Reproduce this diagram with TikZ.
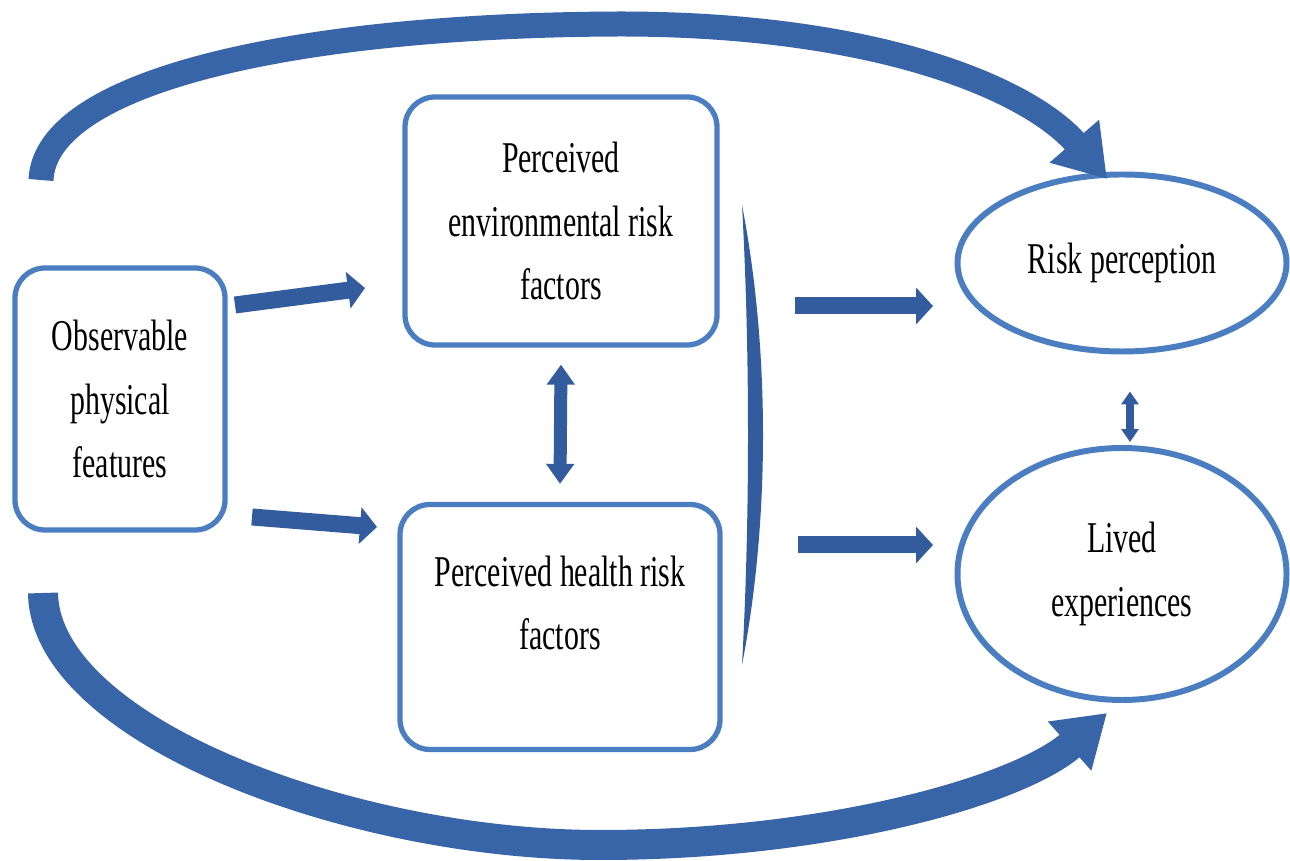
\documentclass[tikz,border=0pt]{standalone}
\usepackage{fontspec}
\setmainfont{Liberation Serif}[FakeStretch=0.68]
\usetikzlibrary{arrows.meta,shapes.geometric}
\definecolor{boxblue}{RGB}{74,126,193}
\definecolor{arrowblue}{RGB}{50,92,158}
\definecolor{bendblue}{RGB}{56,100,168}
\tikzset{
  txt/.style={align=center,font=\fontsize{12.5}{18}\selectfont},
  box/.style={txt,draw=boxblue,line width=1.5pt,rounded corners=0.3cm},
  oval/.style={txt,draw=boxblue,line width=1.7pt,ellipse,inner sep=0pt},
  fat/.style={arrowblue,line width=0.17cm,-{Triangle[length=0.17cm,width=0.36cm]}},
  twin/.style={arrowblue,line width=0.13cm,{Triangle[length=0.2cm,width=0.27cm]}-{Triangle[length=0.2cm,width=0.27cm]}},
  sweep/.style={bendblue,line width=0.25cm,-{Triangle[length=0.5cm,width=0.62cm]}}
}
\begin{document}
\begin{tikzpicture}
		  \useasboundingbox (0,0) rectangle (12.9,-8.61);
		  % boxes on the left and in the middle
		  \node[box,minimum width=2.1cm,minimum height=2.62cm] (obs) at (1.2,-3.99) {Observable\\physical\\features};
		  \node[box,minimum width=3.12cm,minimum height=2.48cm] (env) at (5.61,-2.21) {Perceived\\environmental risk\\factors};
		  \node[box,minimum width=3.2cm,minimum height=2.45cm] (health) at (5.6,-6.27) {};
		  \node[txt] (healthtxt) at (5.6,-6.03) {Perceived health risk\\factors};
		  % ellipses on the right
		  \node[oval,minimum width=3.29cm,minimum height=1.77cm] (risk) at (11.22,-2.63) {Risk perception};
		  \node[oval,minimum width=3.29cm,minimum height=2.52cm] (lived) at (11.22,-5.74) {Lived\\experiences};
		  % bracket
		  \fill[arrowblue,line join=round] (7.42,-2.05) .. controls (7.7,-3.5) and (7.7,-5.2) .. (7.42,-6.65)
		      .. controls (7.5,-5.2) and (7.5,-3.5) .. (7.42,-2.05);
		  % free ends
		  \coordinate (a1) at (2.35,-3.05);
		  \coordinate (a2) at (3.65,-2.88);
		  \coordinate (b1) at (2.52,-5.17);
		  \coordinate (b2) at (3.77,-5.27);
		  \coordinate (c1) at (7.95,-3.06);
		  \coordinate (c2) at (9.33,-3.06);
		  \coordinate (d1) at (7.98,-5.45);
		  \coordinate (d2) at (9.33,-5.45);
		  \coordinate (t0) at (0.41,-1.8);
		  \coordinate (t1) at (11.07,-1.79);
		  \coordinate (u0) at (0.43,-5.93);
		  \coordinate (u1) at (11.07,-7.13);
		  \draw[fat] (a1) -- (a2);
		  \draw[fat] (b1) -- (b2);
		  \draw[fat] (c1) -- (c2);
		  \draw[fat] (d1) -- (d2);
		  \draw[twin] ([yshift=-0.17cm]env.south) -- ([yshift=0.18cm]health.north);
		  \draw[arrowblue,line width=0.08cm,{Triangle[length=0.13cm,width=0.17cm]}-{Triangle[length=0.13cm,width=0.17cm]}]
		      ([xshift=0.08cm,yshift=-0.37cm]risk.south) -- ([xshift=0.08cm,yshift=0.03cm]lived.north);
		  % curved arrows
		  \draw[sweep] (t0) .. controls (0.45,-0.8) and (3.0,-0.25) .. (6.2,-0.24)
		      .. controls (8.8,-0.24) and (10.3,-0.9) .. (t1);
		  \draw[sweep,line width=0.3cm] (u0) .. controls (0.45,-7.3) and (3.5,-8.45) .. (6.0,-8.45)
		      .. controls (8.3,-8.45) and (10.2,-7.9) .. (u1);
		\end{tikzpicture}
\end{document}
